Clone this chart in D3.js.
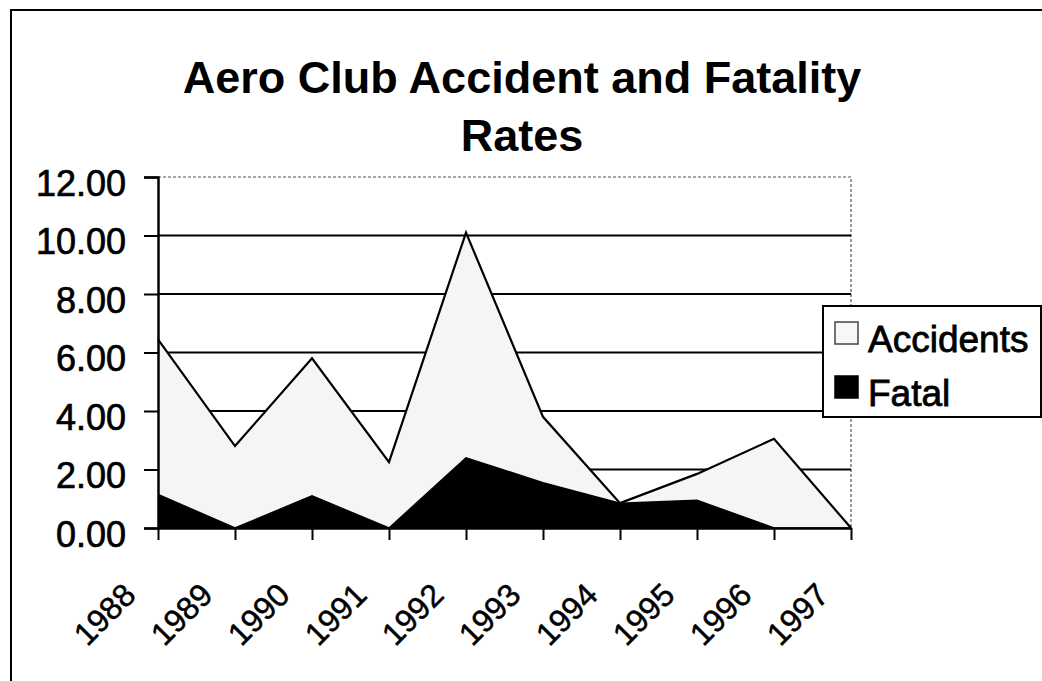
<!DOCTYPE html>
<html>
<head>
<meta charset="utf-8">
<script src="https://cdn.jsdelivr.net/npm/d3@7"></script>
<style>
  html, body { margin: 0; padding: 0; background: #fff; }
  svg { display: block; }
  text { font-family: "Liberation Sans", Arial, sans-serif; fill: #000; }
</style>
</head>
<body>
<svg id="chart" width="1042" height="681"></svg>
<script>
const years = ["1988","1989","1990","1991","1992","1993","1994","1995","1996","1997"];
const accidents = [6.45, 2.8, 5.8, 2.25, 10.1, 3.8, 0.85, 1.85, 3.05, 0];
const fatal = [1.15, 0, 1.1, 0, 2.4, 1.55, 0.85, 0.95, 0, 0];
const yTicks = [0, 2, 4, 6, 8, 10, 12];
const titleLines = ["Aero Club Accident and Fatality", "Rates"];
const seriesNames = ["Accidents", "Fatal"];

const svg = d3.select("#chart");
const plot = { left: 158, right: 851, top: 177, bottom: 528 };

const x = d3.scalePoint().domain(years).range([plot.left, plot.right]);
const y = d3.scaleLinear().domain([0, 12]).range([plot.bottom, plot.top]);

// outer frame
svg.append("path")
  .attr("d", "M11,1000 L11,10 L1100,10")
  .attr("fill", "none").attr("stroke", "#000").attr("stroke-width", 2);

// title
svg.append("g").selectAll("text").data(titleLines).join("text")
  .attr("x", 522).attr("y", (d, i) => 93 + i * 58)
  .attr("text-anchor", "middle")
  .attr("font-size", 45).attr("font-weight", "bold")
  .text(d => d);

// plot border (dotted) top & right
svg.append("path")
  .attr("d", `M${plot.left},${plot.top} L${plot.right},${plot.top} L${plot.right},${plot.bottom}`)
  .attr("fill", "none").attr("stroke", "#555").attr("stroke-width", 1.2)
  .attr("stroke-dasharray", "3,2");

// gridlines
svg.append("g").selectAll("line").data(yTicks.filter(d => d > 0 && d < 12)).join("line")
  .attr("x1", plot.left).attr("x2", plot.right)
  .attr("y1", d => y(d)).attr("y2", d => y(d))
  .attr("stroke", "#000").attr("stroke-width", 2);

// accidents area
const areaGen = d3.area().x((d, i) => x(years[i])).y0(y(0)).y1(d => y(d));
const lineGen = d3.line().x((d, i) => x(years[i])).y(d => y(d));
svg.append("path").datum(accidents).attr("d", areaGen).attr("fill", "#f5f5f5");
svg.append("path").datum(accidents).attr("d", lineGen)
  .attr("fill", "none").attr("stroke", "#000").attr("stroke-width", 2.2)
  .attr("stroke-linejoin", "miter");

// fatal area
svg.append("path").datum(fatal).attr("d", areaGen).attr("fill", "#000");
svg.append("path").datum(fatal).attr("d", lineGen)
  .attr("fill", "none").attr("stroke", "#000").attr("stroke-width", 1.5);

// y axis
const yAxis = d3.axisLeft(y).tickValues(yTicks).tickSize(14).tickPadding(18)
  .tickFormat(d3.format(".2f"));
const gy = svg.append("g").attr("transform", `translate(${plot.left},0)`).call(yAxis);
gy.select(".domain").attr("stroke", "#000").attr("stroke-width", 2.5);
gy.selectAll(".tick line").attr("stroke", "#000").attr("stroke-width", 2);
gy.selectAll(".tick text")
  .attr("font-size", 36).attr("font-family", "Liberation Sans, Arial, sans-serif")
  .attr("fill", "#000").attr("stroke", "#000").attr("stroke-width", 0.7)
  .attr("dy", "0.5em");

// x axis
const xAxis = d3.axisBottom(x).tickSize(12).tickSizeOuter(0).tickPadding(0);
const gx = svg.append("g").attr("transform", `translate(0,${plot.bottom})`).call(xAxis);
gx.select(".domain").attr("stroke", "#000").attr("stroke-width", 2.5);
gx.selectAll(".tick line").attr("stroke", "#000").attr("stroke-width", 2);
gx.selectAll(".tick text")
  .attr("font-size", 32).attr("font-family", "Liberation Sans, Arial, sans-serif")
  .attr("fill", "#000").attr("stroke", "#000").attr("stroke-width", 0.5)
  .attr("text-anchor", "end")
  .attr("dy", null).attr("y", null)
  .attr("transform", "translate(-21,69) rotate(-45)");

// legend
const lg = svg.append("g");
lg.append("rect").attr("x", 823).attr("y", 306).attr("width", 218).attr("height", 111)
  .attr("fill", "#fff").attr("stroke", "#000").attr("stroke-width", 2);
const entries = lg.selectAll("g.entry").data(seriesNames).join("g").attr("class", "entry")
  .attr("transform", (d, i) => `translate(835,${322 + i * 54})`);
entries.append("rect").attr("width", 23).attr("height", 22)
  .attr("fill", (d, i) => i === 0 ? "#f7f7f7" : "#000")
  .attr("stroke", (d, i) => i === 0 ? "#444" : "#000").attr("stroke-width", 1.5);
entries.append("text").attr("x", 33).attr("y", 30)
  .attr("font-size", 37).attr("stroke", "#000").attr("stroke-width", 0.8)
  .text(d => d);
</script>
</body>
</html>
